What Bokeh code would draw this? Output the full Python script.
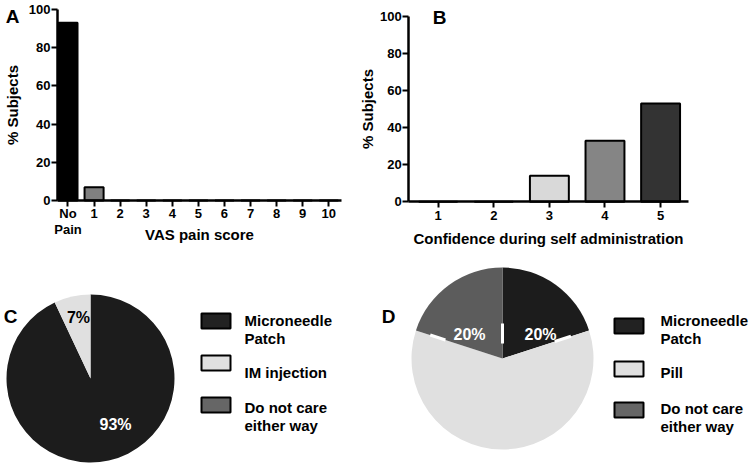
import numpy as np
from bokeh.plotting import figure
from bokeh.layouts import column, row
from bokeh.models import FixedTicker, Label, Range1d
from bokeh.embed import file_html
from bokeh.resources import INLINE
from bokeh.core.properties import value

# ---------------- data ----------------
vas_scores = [0, 1, 2, 3, 4, 5, 6, 7, 8, 9, 10]
vas_tick_labels = ["No\nPain", "1", "2", "3", "4", "5", "6", "7", "8", "9", "10"]
vas_pct = [93, 7, 0, 0, 0, 0, 0, 0, 0, 0, 0]

conf_levels = [1, 2, 3, 4, 5]
conf_pct = [0, 0, 14, 33, 53]

pref_c_labels = ["Microneedle\nPatch", "IM injection", "Do not care\neither way"]
pref_c_pct = [93, 7, 0]

pref_d_labels = ["Microneedle\nPatch", "Pill", "Do not care\neither way"]
pref_d_pct = [20, 60, 20]

y_ticks = [0, 20, 40, 60, 80, 100]

# ---------------- styles ----------------
FONT = "Liberation Sans"
vas_colors = ["#000000", "#808080"] + ["#ffffff"] * 9
conf_colors = ["#ffffff", "#ffffff", "#d9d9d9", "#858585", "#333333"]
pie_c_colors = ["#1c1c1c", "#e0e0e0", "#666666"]
pie_d_colors = ["#1c1c1c", "#e0e0e0", "#5c5c5c"]
legend_colors = ["#222222", "#e0e0e0", "#666666"]


def style_axes(p, x_fixed, x_bounds, y_fixed):
    p.grid.visible = False
    p.outline_line_color = None
    p.xaxis[0].fixed_location = x_fixed
    p.xaxis[0].bounds = x_bounds
    p.yaxis[0].fixed_location = y_fixed
    p.yaxis[0].bounds = (0, 100)
    for ax in (p.xaxis[0], p.yaxis[0]):
        ax.axis_line_width = 2.5
        ax.axis_line_color = "black"
        ax.major_tick_line_width = 2
        ax.major_tick_out = 6
        ax.major_tick_in = 0
        ax.minor_tick_line_color = None
        ax.major_label_text_font = FONT
        ax.major_label_text_font_style = "bold"
        ax.major_label_text_font_size = "13px"
        ax.major_label_text_color = "black"
        ax.major_label_standoff = 1
        ax.axis_label_text_font = FONT
        ax.axis_label_text_font_style = "bold"
        ax.axis_label_text_font_size = "15px"
        ax.axis_label_text_color = "black"
    p.yaxis[0].ticker = FixedTicker(ticks=y_ticks)


def letter(p, txt, x, y, units="screen"):
    p.add_layout(Label(x=x, y=y, x_units=units, y_units=units, text=txt,
                       text_font=FONT, text_font_style="bold", text_font_size="19px",
                       text_align="center", text_baseline="middle", text_color="black"))


# ---------------- panel A ----------------
pA = figure(width=358, height=250, x_range=Range1d(-2.588, 11.139),
            y_range=Range1d(-26.18, 104.71), output_backend="svg",
            toolbar_location=None, min_border=0)
style_axes(pA, 0, (-0.403, 10.487), -0.403)
pA.vbar(x=vas_scores, top=vas_pct, width=0.73, fill_color=vas_colors,
        line_color="black", line_width=2)
pA.xaxis[0].ticker = FixedTicker(ticks=vas_scores)
pA.xaxis[0].major_label_overrides = {s: l for s, l in zip(vas_scores, vas_tick_labels)}
pA.xaxis[0].major_label_text_line_height = 1.05
pA.xaxis[0].major_label_standoff = 0
pA.xaxis[0].axis_label = "VAS pain score"
pA.xaxis[0].axis_label_standoff = -14
pA.yaxis[0].axis_label = "% Subjects"
pA.yaxis[0].axis_label_standoff = 5
letter(pA, "A", 12, 234)

# ---------------- panel B ----------------
pB = figure(width=392, height=250, x_range=Range1d(-0.433, 6.617),
            y_range=Range1d(-26.28, 108.63), output_backend="svg",
            toolbar_location=None, min_border=0)
style_axes(pB, 0, (0.471, 5.507), 0.471)
pB.vbar(x=conf_levels, top=conf_pct, width=0.7, fill_color=conf_colors,
        line_color="black", line_width=2)
pB.xaxis[0].ticker = FixedTicker(ticks=conf_levels)
pB.xaxis[0].major_label_standoff = 3
pB.xaxis[0].axis_label = "Confidence during self administration"
pB.xaxis[0].axis_label_standoff = 7
pB.yaxis[0].axis_label = "% Subjects"
pB.yaxis[0].axis_label_standoff = 1
letter(pB, "B", 81, 233)


# ---------------- pies ----------------
def pie_angles(pcts):
    frac = np.array(pcts, dtype=float) / float(sum(pcts))
    cum = np.concatenate([[0.0], np.cumsum(frac)])
    start = np.pi / 2 - 2 * np.pi * cum[1:]
    end = np.pi / 2 - 2 * np.pi * cum[:-1]
    return start, end


def pie_panel(pcts, labels, colors, center, radius, label_pos, label_colors,
              box_x, box_y, text_x, text_y, letter_txt, letter_xy, white_ticks=None):
    p = figure(width=375, height=214, x_range=Range1d(0, 375), y_range=Range1d(0, 214),
               output_backend="svg", toolbar_location=None, x_axis_type=None,
               y_axis_type=None, min_border=0)
    p.grid.visible = False
    p.outline_line_color = None
    start, end = pie_angles(pcts)
    keep = [i for i, v in enumerate(pcts) if v > 0]
    p.wedge(x=center[0], y=center[1], radius=radius,
            start_angle=[start[i] for i in keep], end_angle=[end[i] for i in keep],
            fill_color=[colors[i] for i in keep], line_color=None)
    if white_ticks:
        xs0, ys0, xs1, ys1 = [], [], [], []
        for b_idx, r0, r1 in white_ticks:
            a = end[b_idx]
            xs0.append(center[0] + r0 * np.cos(a)); ys0.append(center[1] + r0 * np.sin(a))
            xs1.append(center[0] + r1 * np.cos(a)); ys1.append(center[1] + r1 * np.sin(a))
        p.segment(x0=xs0, y0=ys0, x1=xs1, y1=ys1, line_color="white", line_width=3)
    for i, pos in enumerate(label_pos):
        if pos is None:
            continue
        p.text(x=[pos[0]], y=[pos[1]], text=[f"{pcts[i]}%"], text_font=value(FONT),
               text_font_style="bold", text_font_size="16px", text_align="center",
               text_baseline="middle", text_color=label_colors[i])
    p.rect(x=[box_x] * len(labels), y=box_y, width=29, height=15, fill_color=legend_colors,
           line_color="black", line_width=2)
    tx, ty, tt = [], [], []
    for lab, y0 in zip(labels, text_y):
        for k, line in enumerate(lab.split("\n")):
            tx.append(text_x); ty.append(y0 - 18 * k); tt.append(line)
    p.text(x=tx, y=ty, text=tt, text_font=value(FONT), text_font_style="bold",
           text_font_size="15px", text_align="left", text_baseline="middle",
           text_color="black")
    letter(p, letter_txt, letter_xy[0], letter_xy[1], units="data")
    return p


pC = pie_panel(pref_c_pct, pref_c_labels, pie_c_colors, (90, 86), 84,
               [(115, 40), (78, 147), None], ["white", "black", "black"],
               215.5, [143.5, 101.5, 59.5], 244, [144, 92, 57], "C", (10, 148))

pD = pie_panel(pref_d_pct, pref_d_labels, pie_d_colors, (127, 106), 91,
               [(165, 130), None, (94, 130)], ["white", "black", "white"],
               253.5, [138.5, 95.5, 54.5], 285, [144, 92, 56], "D", (13, 148),
               white_ticks=[(0, 15, 35), (1, 55, 72), (2, 60, 76)])

layout = column(row(pA, pB), row(pC, pD))

open("out.html", "w").write(file_html(layout, INLINE))
